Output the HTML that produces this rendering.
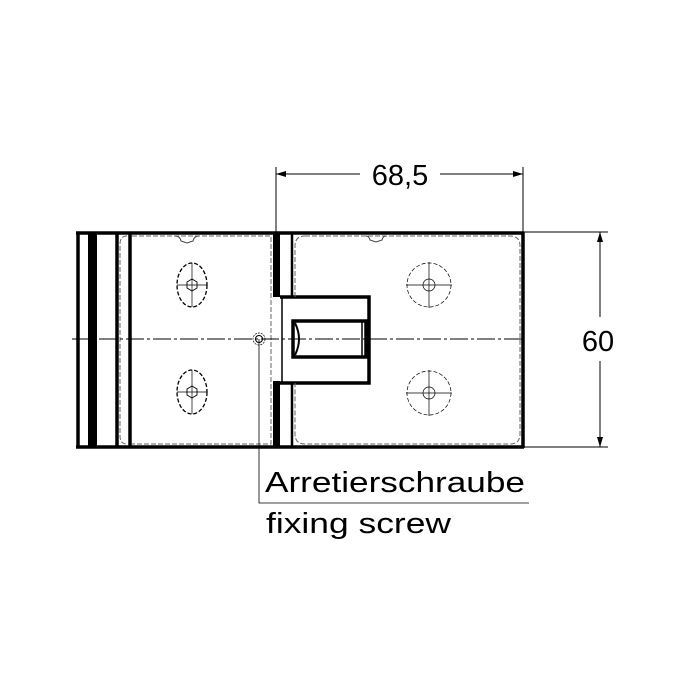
<!DOCTYPE html>
<html><head><meta charset="utf-8"><style>html,body{margin:0;padding:0;background:#fff}svg{display:block}</style></head><body>
<svg width="700" height="700" viewBox="0 0 700 700" xmlns="http://www.w3.org/2000/svg" font-family="Liberation Sans, sans-serif">
<defs>
<marker id="ar" viewBox="0 0 10 10" refX="10" refY="5" markerWidth="10" markerHeight="10" markerUnits="userSpaceOnUse" orient="auto-start-reverse"><path d="M0,2 L10,5 L0,8 z" fill="#000"/></marker>
</defs>
<g fill="none" stroke="#000">
<line x1="76" y1="233" x2="524" y2="233" stroke-width="3.5"/>
<line x1="76" y1="447" x2="524" y2="447" stroke-width="3.5"/>
<line x1="78" y1="232" x2="78" y2="448" stroke-width="3.5"/>
<line x1="523" y1="232" x2="523" y2="448" stroke-width="3.5"/>
<rect x="88" y="233" width="9" height="214" fill="#000" stroke="none"/>
<line x1="117" y1="233" x2="117" y2="447" stroke-width="3.5"/>
<line x1="130" y1="233" x2="130" y2="447" stroke-width="3.5"/>
<rect x="273" y="233" width="7" height="64" fill="#000" stroke="none"/>
<rect x="273" y="381" width="7" height="66" fill="#000" stroke="none"/>
<line x1="292" y1="233" x2="292" y2="297" stroke-width="2.5"/>
<line x1="292" y1="383" x2="292" y2="447" stroke-width="2.5"/>
<path d="M280 297 H369 V383 H280" stroke-width="3.5"/>
<line x1="282" y1="297" x2="282" y2="383" stroke-width="1.5"/>
<rect x="293" y="321" width="73" height="36" stroke-width="3.5"/>
<line x1="362" y1="321" x2="362" y2="357" stroke-width="1.5"/>
<path d="M295 323 Q303 339 295 355" stroke-width="2"/>
<g stroke-dasharray="5,2" stroke-width="1" stroke="#666">
<path d="M132 236 H271 V444 H132"/>
<path d="M127 236 Q120 236 120 244 V436 Q120 444 127 444" />
<path d="M305 236 H510 Q520 236 520 246 V434 Q520 444 510 444 H305 Q295 444 295 434 V383"/>
<path d="M295 297 V246 Q295 236 305 236"/>
</g>
<path d="M175 236 Q180 236 181 241 L187 243 L193 241 Q194 236 199 236" stroke-width="1" stroke="#444"/>
<path d="M366 236 Q369 236 370 240 L376 242 L382 240 Q383 236 386 236" stroke-width="1" stroke="#444"/>
<line x1="72" y1="339" x2="524" y2="339" stroke-width="0.9" stroke-dasharray="18,3,3,3"/>
<g stroke-width="1.3">
<ellipse cx="192" cy="285" rx="15" ry="22" stroke-dasharray="4,2"/>
<ellipse cx="192" cy="392" rx="15" ry="22" stroke-dasharray="4,2"/>
<path d="M192 279 l5 3 v6 l-5 3 l-5 -3 v-6 z" stroke-width="0.9"/>
<path d="M192 386 l5 3 v6 l-5 3 l-5 -3 v-6 z" stroke-width="0.9"/>
</g>
<g stroke-width="0.7">
<path d="M192 263 V307 M177 285 H207 M192 370 V414 M177 392 H207"/>
<circle cx="429" cy="285" r="22" stroke-dasharray="4,2"/>
<circle cx="429" cy="393" r="22" stroke-dasharray="4,2"/>
<circle cx="429" cy="285" r="6"/><circle cx="429" cy="393" r="6"/>
<path d="M429 262 V308 M406 285 H452 M429 370 V416 M406 393 H452"/>
<circle cx="259" cy="339" r="6" stroke-dasharray="2,1"/>
<circle cx="259" cy="339" r="3.5" stroke-width="1"/>
</g>
<path d="M259 339 V503 H529" stroke-width="0.8"/>
<line x1="276" y1="167" x2="276" y2="233" stroke-width="1"/>
<line x1="523" y1="167" x2="523" y2="233" stroke-width="1"/>
<line x1="276" y1="174" x2="360" y2="174" stroke-width="1" marker-start="url(#ar)"/>
<line x1="440" y1="174" x2="523" y2="174" stroke-width="1" marker-end="url(#ar)"/>
<line x1="524" y1="232" x2="608" y2="232" stroke-width="1"/>
<line x1="524" y1="447" x2="608" y2="447" stroke-width="1"/>
<line x1="600" y1="317" x2="600" y2="232" stroke-width="1" marker-end="url(#ar)"/>
<line x1="600" y1="361" x2="600" y2="447" stroke-width="1" marker-end="url(#ar)"/>
</g>
<g fill="#000" font-size="29">
<text x="400" y="185" text-anchor="middle">68,5</text>
<text x="598" y="351" text-anchor="middle">60</text>
<text x="265" y="492" textLength="260" lengthAdjust="spacingAndGlyphs">Arretierschraube</text>
<text x="266" y="533" textLength="185" lengthAdjust="spacingAndGlyphs">fixing screw</text>
</g>
</svg>
</body></html>
